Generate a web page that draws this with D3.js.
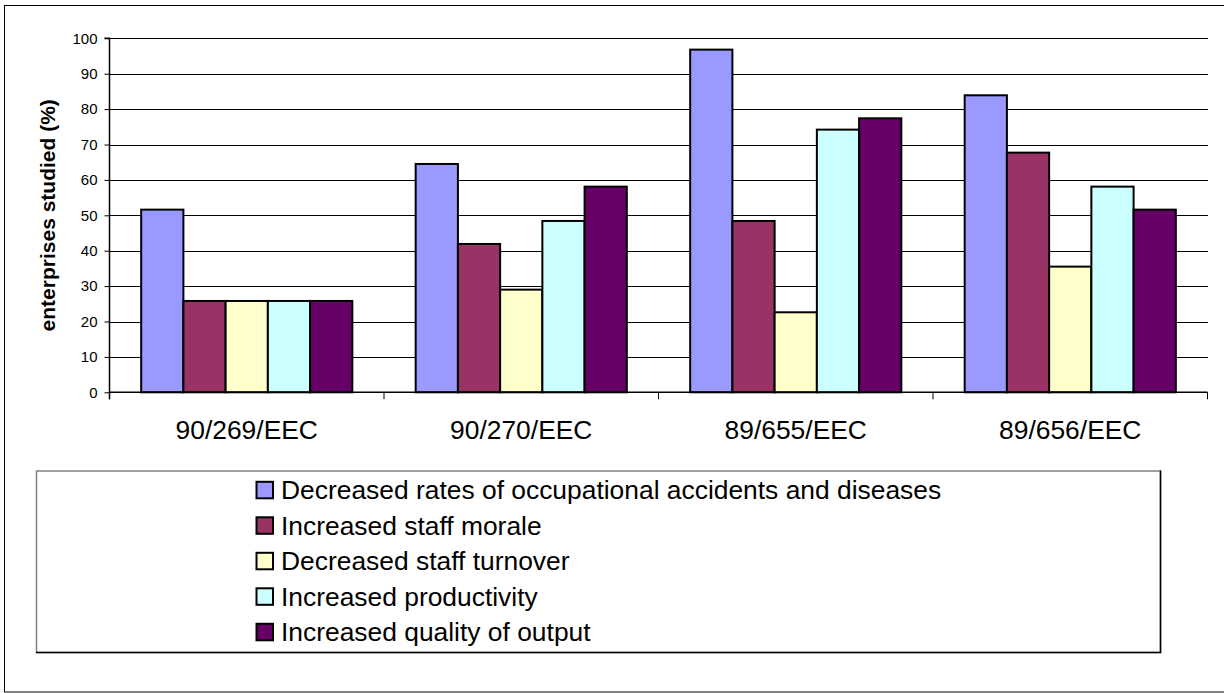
<!DOCTYPE html>
<html>
<head>
<meta charset="utf-8">
<script src="https://cdn.jsdelivr.net/npm/d3@7"></script>
<style>
  html, body { margin: 0; padding: 0; background: #fff; }
  svg { display: block; font-family: "Liberation Sans", Arial, sans-serif; }
</style>
</head>
<body>
<svg id="chart" width="1224" height="693"></svg>
<script>
// Directives compared
const categories = ["90/269/EEC", "90/270/EEC", "89/655/EEC", "89/656/EEC"];

// Benefit types (legend order)
const seriesNames = [
  "Decreased rates of occupational accidents and diseases",
  "Increased staff morale",
  "Decreased staff turnover",
  "Increased productivity",
  "Increased quality of output"
];

// Share of enterprises reporting each benefit (%), one array per benefit
const accidents    = [51.6, 64.5, 96.8, 83.9];
const morale       = [25.8, 41.9, 48.4, 67.7];
const turnover     = [25.8, 29.0, 22.6, 35.5];
const productivity = [25.8, 48.4, 74.2, 58.1];
const quality      = [25.8, 58.1, 77.4, 51.6];

const yTicks = [0, 10, 20, 30, 40, 50, 60, 70, 80, 90, 100];
const colors = ["#9999FF", "#993366", "#FFFFCC", "#CCFFFF", "#660066"];

const seriesValues = [accidents, morale, turnover, productivity, quality];

const svg = d3.select("#chart");

// outer frame
svg.append("rect")
  .attr("x", 4.5).attr("y", 5.5)
  .attr("width", 1221).attr("height", 686.5)
  .attr("fill", "#fff").attr("stroke", "#000").attr("stroke-width", 1);

const plot = { left: 109.5, right: 1207.5, top: 38.3, bottom: 392.3 };

const x0 = d3.scaleBand()
  .domain(categories)
  .range([plot.left, plot.right])
  .paddingInner(0).paddingOuter(0);

// Five bars per group with a 150% gap (6.5 bar widths per group)
const barW = x0.bandwidth() / 6.5;
const x1 = d3.scaleBand()
  .domain(d3.range(seriesNames.length))
  .range([0.75 * barW, 5.75 * barW])
  .padding(0);

const y = d3.scaleLinear().domain([0, 100]).range([plot.bottom, plot.top]);

// horizontal gridlines
svg.append("g")
  .selectAll("line")
  .data(yTicks.slice(1))
  .join("line")
  .attr("x1", plot.left).attr("x2", plot.right)
  .attr("y1", d => Math.round(y(d)) + 0.5).attr("y2", d => Math.round(y(d)) + 0.5)
  .attr("stroke", "#000").attr("stroke-width", 1)
  .attr("shape-rendering", "crispEdges");

// bars
const groups = svg.append("g")
  .selectAll("g")
  .data(categories)
  .join("g")
  .attr("transform", d => `translate(${x0(d)},0)`);

groups.selectAll("rect")
  .data((c, ci) => seriesValues.map((vals, si) => ({ si, v: vals[ci] })))
  .join("rect")
  .attr("x", d => x1(d.si))
  .attr("width", x1.bandwidth())
  .attr("y", d => y(d.v))
  .attr("height", d => y(0) - y(d.v))
  .attr("fill", d => colors[d.si])
  .attr("stroke", "#000")
  .attr("stroke-width", 2);

// y axis
const yAxis = d3.axisLeft(y)
  .tickValues(yTicks)
  .tickSize(5)
  .tickPadding(7)
  .tickFormat(d3.format("d"));

const gy = svg.append("g")
  .attr("transform", `translate(${plot.left},0)`)
  .call(yAxis);
gy.select(".domain").attr("stroke", "#000").attr("stroke-width", 1.5)
  .attr("d", `M-5,${y(100)}H0V${y(0) + 7}`);
gy.selectAll(".tick line").attr("stroke", "#000");
gy.selectAll(".tick text")
  .attr("font-size", 15)
  .attr("fill", "#000")
  .attr("font-family", "Liberation Sans, Arial, sans-serif");

// x axis (ticks on group boundaries, labels centred under groups)
const xAxisLine = svg.append("g");
xAxisLine.append("line")
  .attr("x1", plot.left).attr("x2", plot.right)
  .attr("y1", plot.bottom).attr("y2", plot.bottom)
  .attr("stroke", "#000").attr("stroke-width", 1.5);
xAxisLine.selectAll("line.tk")
  .data(categories.map(c => x0(c)).concat([plot.right]))
  .join("line")
  .attr("class", "tk")
  .attr("x1", d => d).attr("x2", d => d)
  .attr("y1", plot.bottom).attr("y2", plot.bottom + 7)
  .attr("stroke", "#000").attr("stroke-width", 1);

svg.append("g")
  .selectAll("text")
  .data(categories)
  .join("text")
  .attr("x", d => x0(d) + x0.bandwidth() / 2)
  .attr("y", 439)
  .attr("text-anchor", "middle")
  .attr("font-size", 26.4)
  .text(d => d);

// y axis title
svg.append("text")
  .attr("transform", `translate(55,${(plot.top + plot.bottom) / 2}) rotate(-90)`)
  .attr("text-anchor", "middle")
  .attr("font-size", 21)
  .attr("font-weight", "bold")
  .text("enterprises studied (%)");

// legend: entries are centred inside a widened box
const lg = { left: 36, top: 470.5, right: 1160, bottom: 652 };
svg.append("rect")
  .attr("x", lg.left + 0.5).attr("y", lg.top + 0.5)
  .attr("width", lg.right - lg.left).attr("height", lg.bottom - lg.top)
  .attr("fill", "#fff").attr("stroke", "#808080").attr("stroke-width", 1.5);
svg.append("path")
  .attr("d", `M${lg.right + 0.5},${lg.top}V${lg.bottom + 0.5}H${lg.left}`)
  .attr("fill", "none").attr("stroke", "#000").attr("stroke-width", 1.5);

const items = svg.append("g")
  .selectAll("g")
  .data(seriesNames)
  .join("g")
  .attr("transform", (d, i) => `translate(0,${499.3 + i * 35.5})`);

items.append("rect")
  .attr("x", 256.5).attr("y", -17.5)
  .attr("width", 16.5).attr("height", 16.5)
  .attr("fill", (d, i) => colors[i])
  .attr("stroke", "#000").attr("stroke-width", 2);

items.append("text")
  .attr("x", 281)
  .attr("y", 0)
  .attr("font-size", 26.4)
  .text(d => d);
</script>
</body>
</html>
